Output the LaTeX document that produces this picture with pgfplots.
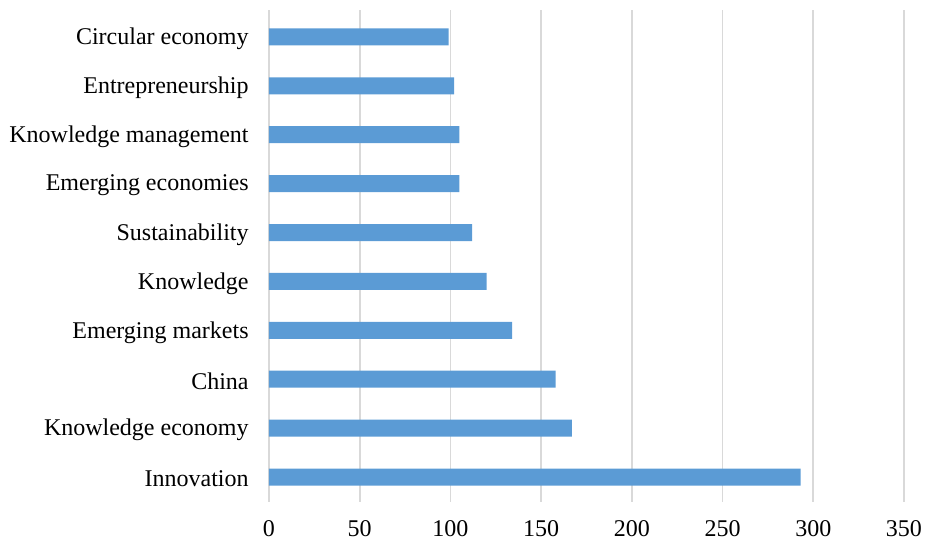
\documentclass[border=0pt]{standalone}
\usepackage{fontspec}
\setmainfont{Liberation Serif}
\usepackage{pgfplots}
\pgfplotsset{compat=1.18}
\definecolor{barblue}{HTML}{5B9BD5}
\definecolor{gridgray}{HTML}{D9D9D9}
\begin{document}
\begin{tikzpicture}
\begin{axis}[
  at={(0,0)}, anchor=south west,
  scale only axis,
  width=476.25pt, height=369pt,
  xbar,
  bar width=12.75pt,
  xmin=0, xmax=350,
  ymin=-0.51, ymax=9.55,
  xtick={0,50,...,350},
  ytick={0,...,9},
  yticklabels={Innovation,Knowledge economy,China,Emerging markets,Knowledge,Sustainability,Emerging economies,Knowledge management,Entrepreneurship,Circular economy},
  axis line style={draw=none},
  major tick length=0pt,
  xmajorgrids,
  grid style={gridgray, line width=1.2pt},
  /pgf/number format/assume math mode=true,
  ticklabel style={font=\fontsize{18}{21}\selectfont, text=black},
  xticklabel style={yshift=-10pt},
  yticklabel style={xshift=-11.75pt, yshift=-1.5pt},
  clip=false,
]
\addplot[fill=barblue, draw=none] coordinates {
(293,0) (167,1) (158,2) (134,3) (120,4) (112,5) (105,6) (105,7) (102,8) (99,9)
};
\end{axis}
\pgfresetboundingbox
\path[use as bounding box] (-201.75pt,-30.75pt) rectangle (492pt,376.5pt);
\end{tikzpicture}
\end{document}
